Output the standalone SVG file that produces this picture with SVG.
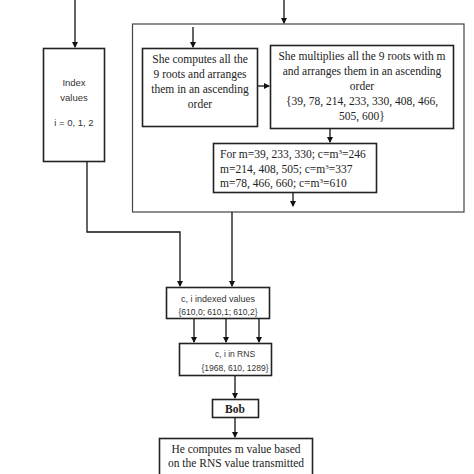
<svg xmlns="http://www.w3.org/2000/svg" width="474" height="474" viewBox="0 0 474 474">
<defs>
<marker id="ah" markerWidth="6" markerHeight="6" refX="5" refY="3" orient="auto" markerUnits="userSpaceOnUse">
<path d="M0,0 L6,3 L0,6 Z" fill="#111"/>
</marker>
<style>
.box{fill:#fff;stroke:#222;stroke-width:1.6}
.outer{fill:#fff;stroke:#444;stroke-width:1.2}
.ar{fill:none;stroke:#111;stroke-width:1.3;marker-end:url(#ah)}
.sf{font-family:"Liberation Serif","Times New Roman",serif;font-size:11.5px;fill:#222}
.ss{font-family:"Liberation Sans",Arial,sans-serif;font-size:8.5px;fill:#333}
.big{font-size:9.5px}
.mid{font-size:9px}
.c{text-anchor:middle}
</style>
</defs>
<rect width="474" height="474" fill="#fff"/>
<g id="outer-box"><rect class="outer" x="132.5" y="24" width="331.5" height="188"/></g>
<g id="index-box">
<rect class="box" x="43.5" y="48.5" width="61" height="113"/>
<text class="ss big c" x="74" y="86">Index</text>
<text class="ss big c" x="74" y="101">values</text>
<text class="ss big c" x="74" y="126">i = 0, 1, 2</text>
</g>
<g id="compute-box">
<rect class="box" x="142.5" y="48.5" width="115" height="78"/>
<text class="sf c" x="200" y="63">She computes all the</text>
<text class="sf c" x="200" y="78">9 roots and arranges</text>
<text class="sf c" x="200" y="93">them in an ascending</text>
<text class="sf c" x="200" y="108">order</text>
</g>
<g id="multiply-box">
<rect class="box" x="270.5" y="45.5" width="183" height="83"/>
<text class="sf c" x="362" y="60">She multiplies all the 9 roots with m</text>
<text class="sf c" x="362" y="75">and arranges them in an ascending</text>
<text class="sf c" x="362" y="90">order</text>
<text class="sf c" x="362" y="105">{39, 78, 214, 233, 330, 408, 466,</text>
<text class="sf c" x="362" y="120">505, 600}</text>
</g>
<g id="for-box">
<rect class="box" x="213.5" y="143.5" width="163" height="49"/>
<text class="sf" x="220" y="158">For m=39, 233, 330; c=m<tspan dy="-4" font-size="7">3</tspan><tspan dy="4">=246</tspan></text>
<text class="sf" x="220" y="173">m=214, 408, 505; c=m<tspan dy="-4" font-size="7">3</tspan><tspan dy="4">=337</tspan></text>
<text class="sf" x="220" y="187">m=78, 466, 660; c=m<tspan dy="-4" font-size="7">3</tspan><tspan dy="4">=610</tspan></text>
</g>
<g id="indexed-box">
<rect class="box" x="166.5" y="287.5" width="103" height="31"/>
<text class="ss mid c" x="218" y="302">c, i indexed values</text>
<text class="ss c" x="218" y="315">{610,0; 610,1; 610,2}</text>
</g>
<g id="rns-box">
<rect class="box" x="179.5" y="343.5" width="92" height="32"/>
<text class="ss c" x="235" y="357">c, i in RNS</text>
<text class="ss c" x="235" y="371">{1968, 610, 1289}</text>
</g>
<g id="bob-box">
<rect class="box" x="212.5" y="399.5" width="46" height="18"/>
<text class="sf c" x="235" y="413" font-weight="bold">Bob</text>
</g>
<g id="result-box">
<rect class="box" x="159.5" y="438.5" width="153" height="45"/>
<text class="sf c" x="236" y="453">He computes m value based</text>
<text class="sf c" x="236" y="467">on the RNS value transmitted</text>
</g>
<g id="connectors">
<path class="ar" d="M75,0 V47"/>
<path class="ar" d="M284,0 V23"/>
<path class="ar" d="M193,27 V47"/>
<path class="ar" d="M258,86 H269"/>
<path class="ar" d="M330,129 V142"/>
<path class="ar" d="M293,193 V206"/>
<path class="ar" d="M87,162 V232 H180 V286"/>
<path class="ar" d="M232,212 V286"/>
<path class="ar" d="M194,319 V342"/>
<path class="ar" d="M226,319 V342"/>
<path class="ar" d="M259,319 V342"/>
<path class="ar" d="M235,376 V398"/>
<path class="ar" d="M235,418 V437"/>
</g>
</svg>
